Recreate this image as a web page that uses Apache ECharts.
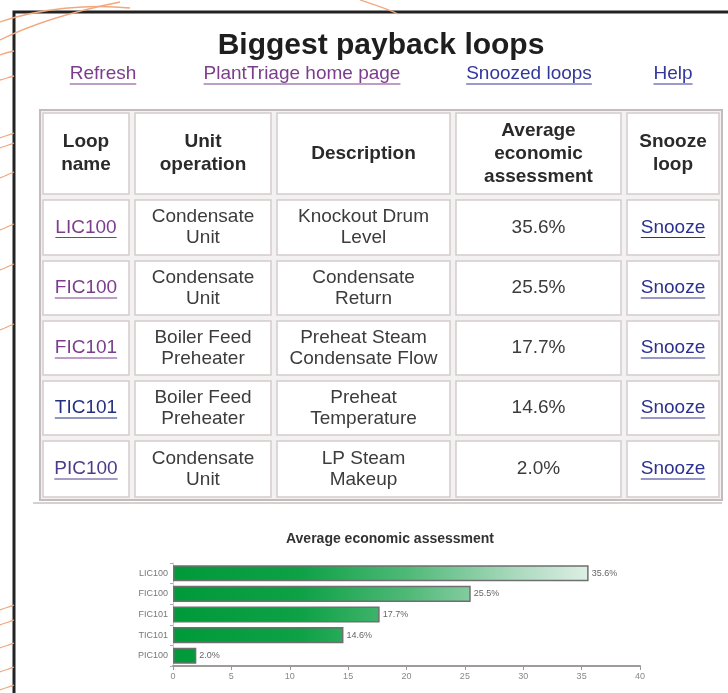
<!DOCTYPE html>
<html>
<head>
<meta charset="utf-8">
<script src="https://cdn.jsdelivr.net/npm/echarts@6/dist/echarts.min.js"></script>
<style>
  html, body { margin: 0; padding: 0; background: #fff; }
  #main { width: 728px; height: 693px; }
</style>
</head>
<body>
<div id="main"></div>
<script>
// table / chart data
var loops = ['LIC100', 'FIC100', 'FIC101', 'TIC101', 'PIC100'];
var units = ['Condensate\nUnit', 'Condensate\nUnit', 'Boiler Feed\nPreheater', 'Boiler Feed\nPreheater', 'Condensate\nUnit'];
var descriptions = ['Knockout Drum\nLevel', 'Condensate\nReturn', 'Preheat Steam\nCondensate Flow', 'Preheat\nTemperature', 'LP Steam\nMakeup'];
var assessment = [35.6, 25.5, 17.7, 14.6, 2.0];
var loopColors = ['#7b3d8c', '#7b3d8c', '#7b3d8c', '#23307f', '#4f3a8a'];
var headers = ['Loop\nname', 'Unit\noperation', 'Description', 'Average\neconomic\nassessment', 'Snooze\nloop'];
var links = ['Refresh', 'PlantTriage home page', 'Snoozed loops', 'Help'];
var linkColors = ['#7b3d8c', '#7b3d8c', '#34379a', '#34379a'];
var linkX = [103, 302, 529, 673];
var snoozeText = 'Snooze';

var FONT = '"Liberation Sans", Arial, sans-serif';
var colX = [40, 132, 274, 453, 624, 722];
var rowY = [110, 197, 258, 318, 378, 438, 500];

var ctx = document.createElement('canvas').getContext('2d');
function textWidth(t, font) {
    ctx.font = font;
    return ctx.measureText(t).width;
}

var graphics = [];

// frame of the page
graphics.push({
    type: 'rect', z: 1,
    shape: {x: 14, y: 12, width: 800, height: 800},
    style: {fill: null, stroke: '#222', lineWidth: 3}
});

// orange doodles outside the frame
var doodles = [
    [[0, 22], [40, 8], [90, 4], [130, 8]],
    [[0, 40], [30, 25], [70, 12], [120, 2]],
    [[360, 0], [372, 4], [385, 8], [398, 14]],
    [[0, 55], [5, 53], [9, 52], [14, 51]],
    [[0, 80], [5, 79], [9, 77], [14, 76]],
    [[0, 138], [5, 136], [9, 135], [14, 133]],
    [[0, 148], [5, 146], [9, 145], [14, 143]],
    [[0, 178], [5, 176], [9, 174], [14, 172]],
    [[0, 230], [5, 228], [9, 226], [14, 224]],
    [[0, 270], [5, 268], [9, 266], [14, 264]],
    [[0, 330], [5, 328], [9, 326], [14, 324]],
    [[0, 610], [5, 608], [9, 607], [14, 605]],
    [[0, 625], [5, 623], [9, 622], [14, 620]],
    [[0, 648], [5, 646], [9, 645], [14, 643]],
    [[0, 672], [5, 670], [9, 669], [14, 667]],
    [[0, 690], [5, 688], [9, 687], [14, 685]]
];
doodles.forEach(function (d) {
    graphics.push({
        type: 'bezierCurve', z: 2,
        shape: {x1: d[0][0], y1: d[0][1], cpx1: d[1][0], cpy1: d[1][1], cpx2: d[2][0], cpy2: d[2][1], x2: d[3][0], y2: d[3][1]},
        style: {stroke: '#f3a77c', lineWidth: 1.3, fill: null}
    });
});

// title and links
graphics.push({
    type: 'text', z: 5,
    style: {text: 'Biggest payback loops', x: 381, y: 46, fill: '#1e1e1e',
        font: 'bold 30px ' + FONT, align: 'center', verticalAlign: 'middle'}
});
links.forEach(function (t, i) {
    var f = '19px ' + FONT;
    var w = textWidth(t, f);
    graphics.push({
        type: 'text', z: 5,
        style: {text: t, x: linkX[i], y: 74, fill: linkColors[i], font: f, align: 'center', verticalAlign: 'middle'}
    });
    graphics.push({
        type: 'line', z: 5,
        shape: {x1: linkX[i] - w / 2, y1: 84, x2: linkX[i] + w / 2, y2: 84},
        style: {stroke: linkColors[i], lineWidth: 1}
    });
});

// table
graphics.push({
    type: 'rect', z: 3,
    shape: {x: colX[0], y: rowY[0], width: colX[5] - colX[0], height: rowY[6] - rowY[0]},
    style: {fill: '#f3f1f1', stroke: '#c4bcbc', lineWidth: 2}
});
for (var r = 0; r < 6; r++) {
    for (var c = 0; c < 5; c++) {
        graphics.push({
            type: 'rect', z: 4,
            shape: {x: colX[c] + 3, y: rowY[r] + 3, width: colX[c + 1] - colX[c] - 6, height: rowY[r + 1] - rowY[r] - 6},
            style: {fill: '#fff', stroke: '#d3cccc', lineWidth: 1.5}
        });
    }
}
function cellText(t, c, r, font, color, lh) {
    graphics.push({
        type: 'text', z: 6,
        style: {text: t, x: (colX[c] + colX[c + 1]) / 2, y: (rowY[r] + rowY[r + 1]) / 2,
            fill: color, font: font, align: 'center', verticalAlign: 'middle', lineHeight: lh}
    });
}
function cellLink(t, c, r, color) {
    var f = '19px ' + FONT;
    var w = textWidth(t, f);
    var cx = (colX[c] + colX[c + 1]) / 2, cy = (rowY[r] + rowY[r + 1]) / 2;
    cellText(t, c, r, f, color, 21);
    graphics.push({
        type: 'line', z: 6,
        shape: {x1: cx - w / 2, y1: cy + 10, x2: cx + w / 2, y2: cy + 10},
        style: {stroke: color, lineWidth: 1}
    });
}
headers.forEach(function (h, c) {
    cellText(h, c, 0, 'bold 19px ' + FONT, '#2a2a2a', 23);
});
loops.forEach(function (l, i) {
    var r = i + 1;
    cellLink(l, 0, r, loopColors[i]);
    cellText(units[i], 1, r, '19px ' + FONT, '#3c3c3c', 21);
    cellText(descriptions[i], 2, r, '19px ' + FONT, '#3c3c3c', 21);
    cellText(assessment[i].toFixed(1) + '%', 3, r, '19px ' + FONT, '#3c3c3c', 21);
    cellLink(snoozeText, 4, r, '#2c3190');
});

// separator under table
graphics.push({
    type: 'line', z: 3,
    shape: {x1: 33, y1: 503, x2: 722, y2: 503},
    style: {stroke: '#d6d0d0', lineWidth: 2}
});

var barGradient = new echarts.graphic.LinearGradient(173, 0, 600, 0, [
    {offset: 0, color: '#009a3a'},
    {offset: 0.3, color: '#0ea146'},
    {offset: 0.55, color: '#4fb977'},
    {offset: 0.8, color: '#a9d9bd'},
    {offset: 1, color: '#e6f2eb'}
], true);

var chart = echarts.init(document.getElementById('main'), null, {renderer: 'canvas'});
chart.setOption({
    animation: false,
    backgroundColor: '#fff',
    textStyle: {fontFamily: FONT},
    title: {
        text: 'Average economic assessment',
        left: 385, top: 527,
        textAlign: 'center',
        textStyle: {fontSize: 14, fontWeight: 'bold', color: '#333', fontFamily: FONT}
    },
    graphic: graphics,
    grid: {left: 173, right: 88, top: 563, bottom: 27, containLabel: false},
    xAxis: {
        type: 'value', min: 0, max: 40, interval: 5,
        axisLine: {show: true, lineStyle: {color: '#a09a9a', width: 2}},
        axisTick: {show: true, length: 4, lineStyle: {color: '#999'}},
        axisLabel: {fontSize: 9, color: '#888', margin: 6},
        splitLine: {show: false}
    },
    yAxis: {
        type: 'category', inverse: true, data: loops,
        axisLine: {show: true, lineStyle: {color: '#ccc'}},
        axisTick: {show: true, length: 3, lineStyle: {color: '#aaa'}},
        axisLabel: {fontSize: 9, color: '#777', margin: 5}
    },
    series: [{
        type: 'bar',
        data: assessment,
        barCategoryGap: '22%',
        itemStyle: {color: barGradient, borderColor: '#6f6f6f', borderWidth: 1.5},
        label: {
            show: true, position: 'right', distance: 3,
            fontSize: 9, color: '#666',
            formatter: function (p) { return p.value.toFixed(1) + '%'; }
        }
    }]
});
</script>
</body>
</html>
